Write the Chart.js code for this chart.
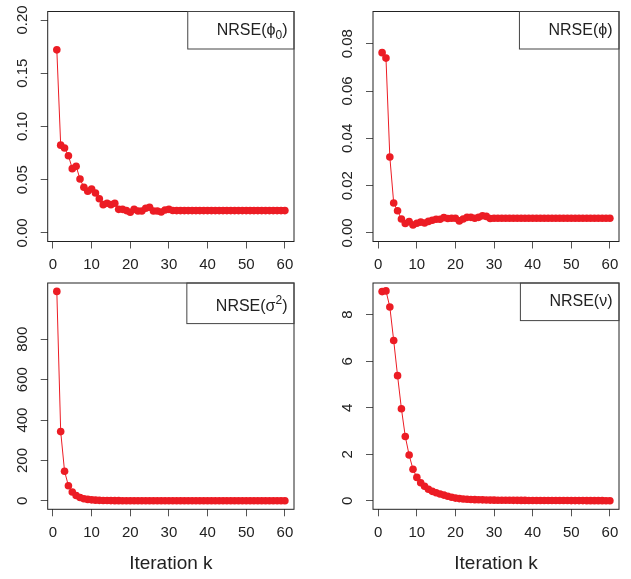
<!DOCTYPE html>
<html>
<head>
<meta charset="utf-8">
<script src="https://cdn.jsdelivr.net/npm/chart.js@4.4.1/dist/chart.umd.min.js"></script>
<style>
  body { margin: 0; background: #fff; width: 631px; height: 579px; position: relative; overflow: hidden; }
  .panel { position: absolute; }
</style>
</head>
<body>
<div class="panel" style="left:0;top:0;width:315px;height:279px"><canvas id="c1"></canvas></div>
<div class="panel" style="left:315px;top:0;width:316px;height:279px"><canvas id="c2"></canvas></div>
<div class="panel" style="left:0;top:279px;width:315px;height:300px"><canvas id="c3"></canvas></div>
<div class="panel" style="left:315px;top:279px;width:316px;height:300px"><canvas id="c4"></canvas></div>
<script>
// iteration index (x)
const iterations = [1,2,3,4,5,6,7,8,9,10,11,12,13,14,15,16,17,18,19,20,
  21,22,23,24,25,26,27,28,29,30,31,32,33,34,35,36,37,38,39,40,
  41,42,43,44,45,46,47,48,49,50,51,52,53,54,55,56,57,58,59,60];

// NRSE(phi0)
const nrsePhi0 = [0.172,0.0825,0.0798,0.0726,0.0604,0.0626,0.0507,0.0429,0.0392,0.0413,
  0.0376,0.0322,0.0266,0.0279,0.0266,0.0279,0.0222,0.0222,0.0210,0.0194,
  0.0222,0.0207,0.0207,0.0232,0.0241,0.0207,0.0207,0.0197,0.0216,0.0222,
  0.0211,0.0210,0.0210,0.0210,0.0210,0.0210,0.0210,0.0210,0.0210,0.0210,
  0.0210,0.0210,0.0210,0.0210,0.0210,0.0210,0.0210,0.0210,0.0210,0.0210,
  0.0210,0.0210,0.0210,0.0210,0.0210,0.0210,0.0210,0.0210,0.0210,0.0210];

// NRSE(phi)
const nrsePhi = [0.0762,0.0739,0.0321,0.0127,0.0094,0.0059,0.0040,0.0048,0.0034,0.0041,
  0.0046,0.0042,0.0049,0.0054,0.0058,0.0058,0.0065,0.0061,0.0062,0.0062,
  0.0051,0.0059,0.0066,0.0066,0.0062,0.0066,0.0073,0.0070,0.0061,0.0062,
  0.0062,0.0062,0.0062,0.0062,0.0062,0.0062,0.0062,0.0062,0.0062,0.0062,
  0.0062,0.0062,0.0062,0.0062,0.0062,0.0062,0.0062,0.0062,0.0062,0.0062,
  0.0062,0.0062,0.0062,0.0062,0.0062,0.0062,0.0062,0.0062,0.0062,0.0062];

// NRSE(sigma^2)
const nrseSigma2 = [1037,343,147,75,44,27,17,11,7.5,5.2,
  3.8,2.9,2.3,1.9,1.6,1.4,1.25,1.1,1.0,0.95,
  0.9,0.88,0.86,0.84,0.82,0.8,0.79,0.78,0.77,0.76,
  0.75,0.75,0.74,0.74,0.73,0.73,0.72,0.72,0.72,0.71,
  0.71,0.71,0.7,0.7,0.7,0.7,0.7,0.7,0.7,0.7,
  0.7,0.7,0.7,0.7,0.7,0.7,0.7,0.7,0.7,0.7];

// NRSE(nu)
const nrseNu = [8.99,9.02,8.33,6.89,5.38,3.96,2.77,1.97,1.36,1.01,
  0.78,0.63,0.50,0.41,0.35,0.30,0.25,0.20,0.16,0.12,
  0.10,0.085,0.07,0.062,0.055,0.05,0.045,0.04,0.036,0.032,
  0.03,0.028,0.027,0.026,0.025,0.024,0.023,0.022,0.021,0.02,
  0.019,0.018,0.018,0.017,0.017,0.016,0.016,0.015,0.015,0.014,
  0.014,0.013,0.013,0.012,0.012,0.012,0.011,0.011,0.010,0.010];

const xTicks = [0, 10, 20, 30, 40, 50, 60];
const yTicksPhi0 = [0, 0.05, 0.10, 0.15, 0.20];
const yLabelsPhi0 = ['0.00', '0.05', '0.10', '0.15', '0.20'];
const yTicksPhi = [0, 0.02, 0.04, 0.06, 0.08];
const yLabelsPhi = ['0.00', '0.02', '0.04', '0.06', '0.08'];
const yTicksSigma2 = [0, 200, 400, 600, 800];
const yLabelsSigma2 = ['0', '200', '400', '600', '800'];
const yTicksNu = [0, 2, 4, 6, 8];
const yLabelsNu = ['0', '2', '4', '6', '8'];

// legend text pieces: [text, 'sub' | 'sup' | '']
const legendPhi0 = [['NRSE(\u03D5', ''], ['0', 'sub'], [')', '']];
const legendPhi = [['NRSE(\u03D5)', '']];
const legendSigma2 = [['NRSE(\u03C3', ''], ['2', 'sup'], [')', '']];
const legendNu = [['NRSE(\u03BD)', '']];

const xTitle = 'Iteration k';

const RED = 'rgb(236, 28, 36)';
const FAM = '"Liberation Sans", Arial, sans-serif';
const TICK_FONT = 15;

const measureCtx = document.createElement('canvas').getContext('2d');
function textWidth(s, size) {
  measureCtx.font = size + 'px ' + FAM;
  return measureCtx.measureText(s).width;
}

const boxPlugin = {
  id: 'boxPlugin',
  afterDraw(chart, args, opts) {
    const ctx = chart.ctx, a = chart.chartArea;
    ctx.save();
    ctx.strokeStyle = '#222';
    ctx.lineWidth = 1;
    ctx.strokeRect(a.left, a.top, a.right - a.left, a.bottom - a.top);

    // legend box, top right
    const parts = opts.parts;
    let w = 0;
    parts.forEach(p => { w += textWidth(p[0], p[1] ? 12 : 16); });
    const textRight = a.right - 6.5;
    const left = textRight - w - 29;
    ctx.strokeStyle = '#444';
    ctx.strokeRect(left, a.top, a.right - left, opts.h);
    ctx.fillStyle = '#222';
    ctx.textBaseline = 'alphabetic';
    ctx.textAlign = 'left';
    let x = textRight - w;
    const base = a.top + opts.base;
    parts.forEach(p => {
      const size = p[1] ? 12 : 16;
      ctx.font = size + 'px ' + FAM;
      let y = base;
      if (p[1] === 'sub') y += 4;
      if (p[1] === 'sup') y -= 7;
      ctx.fillText(p[0], x, y);
      x += textWidth(p[0], size);
    });
    ctx.restore();
  }
};

function makePanel(id, values, yMin, yMax, yVals, yLabs, legendParts, g) {
  let widest = 0;
  yLabs.forEach(l => { widest = Math.max(widest, textWidth(l, TICK_FONT)); });
  const yPad = 25 - 7 - widest / 2;

  const points = iterations.map((k, i) => ({ x: k, y: values[i] }));

  new Chart(document.getElementById(id), {
    type: 'line',
    data: {
      datasets: [{
        data: points,
        borderColor: RED,
        backgroundColor: RED,
        borderWidth: 1,
        pointRadius: 3.8,
        pointBorderWidth: 0,
        pointBackgroundColor: RED,
        tension: 0
      }]
    },
    plugins: [boxPlugin],
    options: {
      responsive: true,
      maintainAspectRatio: false,
      animation: false,
      devicePixelRatio: 1,
      layout: { padding: { left: 0, top: g.top, right: g.right, bottom: 0 } },
      plugins: {
        legend: { display: false },
        tooltip: { enabled: false },
        boxPlugin: { parts: legendParts, h: g.legH, base: g.legBase }
      },
      scales: {
        x: {
          type: 'linear',
          min: -1.36,
          max: 62.36,
          afterBuildTicks: s => { s.ticks = xTicks.map(v => ({ value: v })); },
          afterFit: s => { s.height = g.xh; s.paddingLeft = 0; s.paddingRight = 0; },
          ticks: {
            font: { family: FAM, size: TICK_FONT },
            color: '#222',
            padding: 7.5,
            maxRotation: 0,
            callback: v => String(v)
          },
          grid: { drawOnChartArea: false, drawTicks: true, tickLength: 7, color: '#555' },
          border: { display: false },
          title: {
            display: g.title,
            text: xTitle,
            font: { family: FAM, size: 19 },
            color: '#222',
            padding: { top: 0, bottom: 4 }
          }
        },
        y: {
          type: 'linear',
          min: yMin,
          max: yMax,
          afterBuildTicks: s => { s.ticks = yVals.map(v => ({ value: v })); },
          afterFit: s => { s.width = g.yw; s.paddingTop = 0; s.paddingBottom = 0; },
          ticks: {
            font: { family: FAM, size: TICK_FONT },
            color: '#222',
            padding: yPad,
            minRotation: 90,
            maxRotation: 90,
            crossAlign: 'center',
            callback: (v, i) => yLabs[i]
          },
          grid: { drawOnChartArea: false, drawTicks: true, tickLength: 7, color: '#555' },
          border: { display: false }
        }
      }
    }
  });
}

makePanel('c1', nrsePhi0, -0.008, 0.208, yTicksPhi0, yLabelsPhi0, legendPhi0,
  { yw: 47.7, top: 11.5, right: 21, xh: 37.5, legH: 37.5, legBase: 23.5, title: false });
makePanel('c2', nrsePhi, -0.0036, 0.0936, yTicksPhi, yLabelsPhi, legendPhi,
  { yw: 58, top: 11.5, right: 12, xh: 37.5, legH: 37.5, legBase: 23.5, title: false });
makePanel('c3', nrseSigma2, -41.5, 1078.5, yTicksSigma2, yLabelsSigma2, legendSigma2,
  { yw: 47.7, top: 2.7, right: 21, xh: 69.7, legH: 40.6, legBase: 28.3, title: true });
makePanel('c4', nrseNu, -0.36, 9.36, yTicksNu, yLabelsNu, legendNu,
  { yw: 58, top: 2.7, right: 12, xh: 69.7, legH: 37.6, legBase: 23.3, title: true });
</script>
</body>
</html>
